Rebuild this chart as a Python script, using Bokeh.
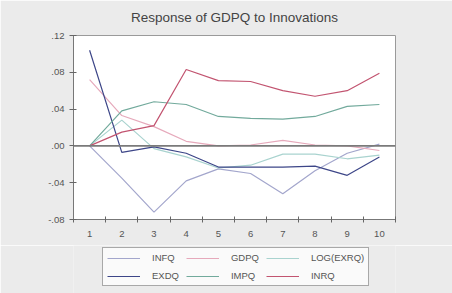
from bokeh.plotting import figure
from bokeh.layouts import column
from bokeh.models import Range1d, FixedTicker, Span, Legend, LegendItem, Title
from bokeh.embed import file_html
from bokeh.resources import INLINE

periods = [1, 2, 3, 4, 5, 6, 7, 8, 9, 10]
infq = [0.000, -0.035, -0.072, -0.038, -0.025, -0.030, -0.052, -0.027, -0.008, 0.002]
gdpq = [0.072, 0.033, 0.021, 0.005, 0.000, 0.001, 0.006, 0.001, 0.000, -0.005]
logexrq = [0.000, 0.028, -0.003, -0.012, -0.024, -0.021, -0.009, -0.009, -0.014, -0.010]
exdq = [0.104, -0.007, -0.001, -0.008, -0.023, -0.023, -0.023, -0.022, -0.032, -0.012]
impq = [0.000, 0.038, 0.048, 0.045, 0.032, 0.030, 0.029, 0.032, 0.043, 0.045]
inrq = [0.000, 0.015, 0.022, 0.083, 0.071, 0.070, 0.060, 0.054, 0.060, 0.079]

series_names = ["INFQ", "GDPQ", "LOG(EXRQ)", "EXDQ", "IMPQ", "INRQ"]
series_values = [infq, gdpq, logexrq, exdq, impq, inrq]
colors = ["#a3a6cc", "#e6a9bb", "#a9d3cf", "#3d4688", "#72aa9c", "#c25470"]

y_ticks = [-0.08, -0.04, 0.0, 0.04, 0.08, 0.12]
y_tick_labels = ["-.08", "-.04", ".00", ".04", ".08", ".12"]
title_text = "Response of GDPQ to Innovations"

BG = "#ebebeb"

p = figure(width=452, height=245, output_backend="svg", toolbar_location=None,
           x_range=Range1d(0.5, 10.5), y_range=Range1d(-0.08, 0.12),
           title=None,
           min_border_left=73, min_border_right=57, min_border_top=35, min_border_bottom=26)

p.border_fill_color = BG
p.background_fill_color = "white"
p.outline_line_color = "#9a9a9a"
p.xgrid.visible = False
p.ygrid.visible = False

# spacer between frame and title, then the title itself
p.add_layout(Title(text=" ", text_font_size="7px", standoff=2), "above")
p.add_layout(Title(text=title_text, align="center", text_font="Liberation Sans",
                   text_font_size="13.5px", text_font_style="normal",
                   text_color="#444444", standoff=0), "above")

zero = Span(location=0, dimension="width", line_color="#7a7a7a", line_width=1.6)
p.add_layout(zero)

for name, vals, c in zip(series_names, series_values, colors):
    p.line(periods, vals, line_color=c, line_width=1.2)

p.xaxis.ticker = FixedTicker(ticks=periods, minor_ticks=[i + 0.5 for i in range(0, 11)])
p.xaxis.major_tick_in = 0
p.xaxis.major_tick_out = 0
p.xaxis.minor_tick_in = 3
p.xaxis.minor_tick_out = 3
p.xaxis.minor_tick_line_color = "#666666"
p.xaxis.axis_line_color = "#777777"
p.xaxis.major_label_text_font_size = "9.5px"
p.xaxis.major_label_text_color = "#555555"
p.xaxis.major_label_standoff = 8

p.yaxis.ticker = FixedTicker(ticks=y_ticks, minor_ticks=[])
p.yaxis.major_label_overrides = {t: l for t, l in zip(y_ticks, y_tick_labels)}
p.yaxis.major_tick_in = 3
p.yaxis.major_tick_out = 4
p.yaxis.major_tick_line_color = "#666666"
p.yaxis.axis_line_color = "#777777"
p.yaxis.major_label_text_font_size = "9.5px"
p.yaxis.major_label_text_color = "#555555"
p.yaxis.major_label_standoff = 5

# legend panel below the chart (its series lines lie outside its view)
lg = figure(width=452, height=48, output_backend="svg", toolbar_location=None,
            x_range=Range1d(100, 101), y_range=Range1d(0, 1),
            x_axis_location=None, y_axis_location=None,
            min_border_left=0, min_border_right=0, min_border_top=0, min_border_bottom=0)
lg.grid.visible = False
lg.outline_line_color = None
lg.background_fill_color = BG
lg.border_fill_color = BG

items = []
for name, vals, c in zip(series_names, series_values, colors):
    r = lg.line(periods, vals, line_color=c, line_width=1.2)
    items.append(LegendItem(label=name, renderers=[r]))

legend = Legend(items=items, orientation="horizontal", ncols=3, location=(29, 7),
                glyph_width=33, glyph_height=10, label_standoff=12, spacing=7,
                padding=4, margin=0,
                label_text_font_size="9.5px", label_text_color="#555555",
                label_height=10,
                border_line_color="#555555", border_line_width=1,
                background_fill_color="#fafafa", background_fill_alpha=1.0)
lg.add_layout(legend)

layout = column(p, lg, spacing=0)
open("out.html", "w").write(file_html(layout, INLINE))
